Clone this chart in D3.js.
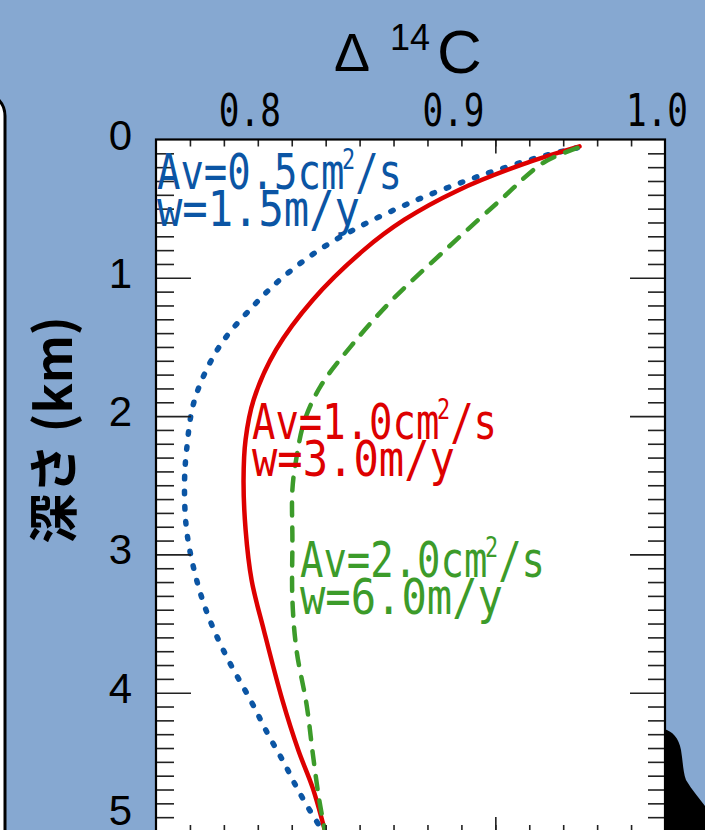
<!DOCTYPE html>
<html>
<head>
<meta charset="utf-8">
<script src="https://cdn.jsdelivr.net/npm/d3@7"></script>
<style>
  body { margin: 0; background: #86a8d1; }
  svg { display: block; }
</style>
</head>
<body>
<div id="wrapper"></div>
<script>
// depth (km) and Δ14C
const blueDepth = [0.06, 0.12, 0.20, 0.30, 0.45, 0.63, 0.80, 1.00, 1.20, 1.50, 1.88, 2.25, 2.50, 2.82, 3.13, 3.42, 3.72, 4.07, 4.30, 4.51, 4.71, 4.91, 5.0]
const blueValue = [0.957, 0.940, 0.922, 0.902, 0.876, 0.850, 0.830, 0.812, 0.798, 0.781, 0.769, 0.765, 0.764, 0.765, 0.769, 0.775, 0.784, 0.797, 0.805, 0.813, 0.820, 0.828, 0.832]

const redDepth = [0.05, 0.18, 0.37, 0.58, 0.80, 1.16, 1.52, 1.88, 2.17, 2.46, 2.82, 3.19, 3.55, 4.05, 4.42, 4.69, 5.0]
const redValue = [0.958, 0.930, 0.898, 0.872, 0.852, 0.827, 0.809, 0.798, 0.794, 0.793, 0.794, 0.797, 0.803, 0.812, 0.820, 0.827, 0.833]

const greenDepth = [0.06, 0.17, 0.44, 0.80, 1.16, 1.49, 1.78, 2.03, 2.30, 2.53, 2.90, 3.33, 3.69, 4.09, 4.44, 4.76, 5.0]
const greenValue = [0.957, 0.940, 0.919, 0.892, 0.866, 0.846, 0.831, 0.823, 0.819, 0.817, 0.817, 0.817, 0.819, 0.824, 0.827, 0.830, 0.833]

const xTickLabels = [0.8, 0.9, 1.0]
const yTickLabels = [0, 1, 2, 3, 4, 5]

const series = [
  { av: "0.5", w: "1.5", depth: blueDepth, value: blueValue, color: "#0b55a4" },
  { av: "1.0", w: "3.0", depth: redDepth, value: redValue, color: "#dd0000" },
  { av: "2.0", w: "6.0", depth: greenDepth, value: greenValue, color: "#3c9b2a" },
]

// 2. dimensions
const width = 705
const height = 830
const margin = { top: 139.5, right: 40, bottom: -1, left: 156 }
const boundedWidth = width - margin.left - margin.right
const boundedHeight = height - margin.top - margin.bottom

const svg = d3.select("#wrapper")
  .append("svg")
    .attr("width", width)
    .attr("height", height)

svg.append("rect")
    .attr("width", width)
    .attr("height", height)
    .attr("fill", "#86a8d1")

// decoration: edge of a rounded box on the left, dark shape bottom right
svg.append("rect")
    .attr("x", -120)
    .attr("y", 92)
    .attr("width", 125)
    .attr("height", 820)
    .attr("rx", 24)
    .attr("fill", "#ffffff")
    .attr("stroke", "#000")
    .attr("stroke-width", 3)

svg.append("path")
    .attr("d", "M664,729 C672,731 679,738 681,750 C683,762 683,772 686,780 C692,790 699,798 705,806 L705,830 L664,830 Z")
    .attr("fill", "#000")

const bounds = svg.append("g")
    .attr("transform", `translate(${margin.left},${margin.top})`)

// 3. scales
const xScale = d3.scaleLinear()
  .domain([0.75, 1.0])
  .range([0, boundedWidth])

const yScale = d3.scaleLinear()
  .domain([0, 5])
  .range([0, 691.5])

bounds.append("rect")
    .attr("width", boundedWidth)
    .attr("height", boundedHeight + 20)
    .attr("fill", "#fff")

// 4. lines
const line = d3.line()
  .x(d => xScale(d[1]))
  .y(d => yScale(d[0]))
  .curve(d3.curveCatmullRom.alpha(0.5))

const styles = [
  { dash: "2.5,12.5", width: 5.5 },
  { dash: null, width: 4.5 },
  { dash: "13,12", width: 4.5 },
]

series.forEach((s, i) => {
  bounds.append("path")
      .datum(d3.zip(s.depth, s.value))
      .attr("d", line)
      .attr("fill", "none")
      .attr("stroke", s.color)
      .attr("stroke-width", styles[i].width)
      .attr("stroke-linecap", "round")
      .attr("stroke-dasharray", styles[i].dash)
})

// 5. frame ticks (minor every 1/60, major at 0.9167; depth minor 0.1 km)
const tickStyle = g => g.call(g => g.select(".domain").remove())
    .call(g => g.selectAll("line").attr("stroke", "#222").attr("stroke-width", 1.6))

const minorX = d3.range(1, 15).map(i => 0.75 + i / 60)
const minorY = d3.range(1, 51).map(i => i / 10).filter(d => d % 1 !== 0)

bounds.append("g")
    .call(d3.axisBottom(xScale).tickValues(minorX).tickSize(7).tickFormat(""))
    .call(tickStyle)
bounds.append("g")
    .call(d3.axisBottom(xScale).tickValues([0.75 + 10 / 60]).tickSize(14).tickFormat(""))
    .call(tickStyle)
bounds.append("g")
    .attr("transform", `translate(0,${yScale(5)})`)
    .call(d3.axisTop(xScale).tickValues(minorX).tickSize(6).tickFormat(""))
    .call(tickStyle)
bounds.append("g")
    .attr("transform", `translate(0,${yScale(5)})`)
    .call(d3.axisTop(xScale).tickValues([0.75 + 10 / 60]).tickSize(14).tickFormat(""))
    .call(tickStyle)

bounds.append("g")
    .call(d3.axisRight(yScale).tickValues(minorY).tickSize(18).tickFormat(""))
    .call(tickStyle)
bounds.append("g")
    .call(d3.axisRight(yScale).tickValues([1, 2, 3, 4]).tickSize(35).tickFormat(""))
    .call(tickStyle)
bounds.append("g")
    .attr("transform", `translate(${boundedWidth},0)`)
    .call(d3.axisLeft(yScale).tickValues(minorY).tickSize(17).tickFormat(""))
    .call(tickStyle)
bounds.append("g")
    .attr("transform", `translate(${boundedWidth},0)`)
    .call(d3.axisLeft(yScale).tickValues([1, 2, 3, 4]).tickSize(35).tickFormat(""))
    .call(tickStyle)

bounds.append("rect")
    .attr("width", boundedWidth)
    .attr("height", boundedHeight + 20)
    .attr("fill", "none")
    .attr("stroke", "#000")
    .attr("stroke-width", 2.2)

// 6. tick labels
const mono = "'DejaVu Sans Mono', monospace"

bounds.selectAll(".x-label")
  .data(xTickLabels)
  .join("text")
    .attr("class", "x-label")
    .attr("x", d => xScale(d) - 8)
    .attr("y", -14)
    .attr("text-anchor", "middle")
    .attr("font-family", mono)
    .attr("font-size", 45)
    .attr("textLength", 62)
    .attr("lengthAdjust", "spacingAndGlyphs")
    .text(d => d.toFixed(1))

bounds.selectAll(".y-label")
  .data(yTickLabels)
  .join("text")
    .attr("class", "y-label")
    .attr("x", -24)
    .attr("y", d => Math.min(yScale(d) - 5, 670) + 15)
    .attr("text-anchor", "end")
    .attr("font-family", "'Liberation Sans', Arial, sans-serif")
    .attr("font-size", 42)
    .text(d => d)

// axis titles
const titleFont = "'Liberation Sans', Arial, sans-serif"
svg.append("text")
    .attr("x", 334).attr("y", 71)
    .attr("font-family", titleFont).attr("font-size", 54)
    .text("Δ")
svg.append("text")
    .attr("x", 390).attr("y", 50)
    .attr("font-family", titleFont).attr("font-size", 36)
    .text("14")
svg.append("text")
    .attr("x", 437).attr("y", 73)
    .attr("font-family", titleFont).attr("font-size", 62)
    .text("C")

svg.append("text")
    .attr("transform", "translate(72,430) rotate(-90)")
    .attr("text-anchor", "middle")
    .attr("font-family", "'Noto Sans CJK JP', sans-serif")
    .attr("font-weight", 700)
    .attr("font-size", 50)
    .text("深さ (km)")

// 7. curve labels
const labelPos = [
  { x: 157, y: 189 },
  { x: 252, y: 439 },
  { x: 300, y: 577 },
]

series.forEach((s, i) => {
  const p = labelPos[i]
  const t1 = svg.append("text")
      .attr("x", p.x)
      .attr("y", p.y)
      .attr("font-family", mono)
      .attr("font-size", 50)
      .attr("fill", s.color)
      .attr("textLength", 245)
      .attr("lengthAdjust", "spacingAndGlyphs")
  t1.append("tspan").text(`Av=${s.av}cm`)
  t1.append("tspan").attr("font-size", 28).attr("dx", -3).attr("dy", -20).text("2")
  t1.append("tspan").attr("dy", 20).text("/s")

  svg.append("text")
      .attr("x", p.x)
      .attr("y", p.y + 37)
      .attr("font-family", mono)
      .attr("font-size", 50)
      .attr("fill", s.color)
      .attr("textLength", 203)
      .attr("lengthAdjust", "spacingAndGlyphs")
      .text(`w=${s.w}m/y`)
})
</script>
</body>
</html>
